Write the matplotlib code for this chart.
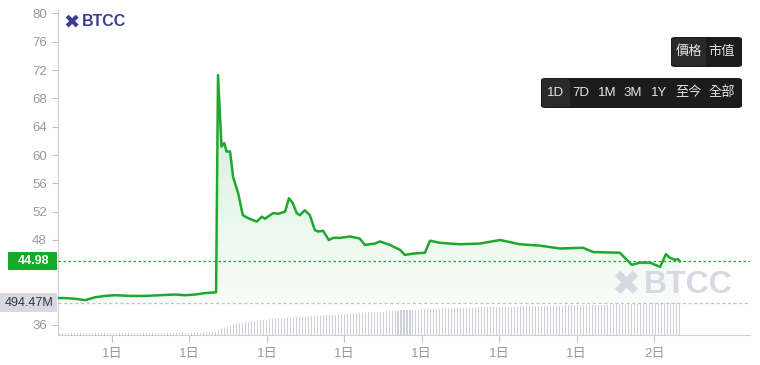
import numpy as np
import matplotlib
matplotlib.use("Agg")
import matplotlib.pyplot as plt
from matplotlib.patches import FancyBboxPatch, Rectangle, Polygon

plt.rcParams['font.family'] = ['Liberation Sans', 'Noto Sans CJK TC', 'DejaVu Sans']

# ---------------- data ----------------
# time in hours since start of chart window
price_t = [0, 0.18, 0.44, 0.70, 0.95, 1.21, 1.47, 1.86, 2.25, 2.63, 3.02, 3.28, 3.54, 3.79,
           4.03, 4.08, 4.13, 4.22, 4.29, 4.35, 4.44, 4.52, 4.65, 4.77, 4.90, 5.13, 5.26, 5.34,
           5.42, 5.55, 5.68, 5.86, 5.96, 6.06, 6.16, 6.24, 6.37, 6.50, 6.63, 6.71, 6.84, 6.99,
           7.10, 7.28, 7.54, 7.79, 7.92, 8.18, 8.31, 8.57, 8.83, 8.95, 9.21, 9.47, 9.60, 9.86,
           10.37, 10.89, 11.41, 11.92, 12.44, 12.95, 13.55, 13.81, 14.50, 14.68, 14.81, 15.02,
           15.28, 15.54, 15.69, 15.79, 15.92, 16.00, 16.05]
price_v = [39.8, 39.8, 39.7, 39.5, 39.9, 40.1, 40.2, 40.1, 40.1, 40.2, 40.3, 40.2, 40.3, 40.5,
           40.6, 40.6, 71.3, 61.2, 61.7, 60.5, 60.5, 56.9, 54.6, 51.5, 51.1, 50.6, 51.3, 51.0,
           51.3, 51.8, 51.7, 52.0, 53.9, 53.2, 51.8, 51.5, 52.2, 51.5, 49.4, 49.2, 49.3, 48.0,
           48.3, 48.3, 48.5, 48.2, 47.3, 47.5, 47.8, 47.3, 46.6, 45.9, 46.1, 46.2, 47.9, 47.6,
           47.4, 47.5, 48.0, 47.4, 47.2, 46.8, 46.9, 46.3, 46.2, 45.2, 44.5, 44.8, 44.8, 44.2,
           46.0, 45.5, 45.2, 45.3, 44.98]

# volume (millions), one bar per interval
volume_m = [38, 37, 38, 37, 38, 38, 37, 38, 38, 37,
            38, 38, 37, 38, 38, 38, 37, 38, 38, 38,
            38, 38, 37, 38, 38, 38, 38, 37, 38, 38,
            38, 38, 38, 37, 38, 38, 38, 38, 38, 38,
            38, 39, 38, 38, 38, 39, 38, 38, 39, 39,
            39, 39, 42, 70, 95, 115, 130, 145, 158, 170,
            180, 188, 196, 203, 210, 216, 222, 228, 234, 238,
            243, 248, 252, 256, 260, 264, 267, 270, 273, 276,
            279, 282, 285, 288, 291, 294, 297, 300, 303, 306,
            309, 312, 315, 318, 321, 324, 327, 330, 333, 336,
            339, 342, 345, 348, 351, 354, 357, 360, 363, 366,
            369, 372, 375, 377, 380, 382, 385, 387, 390, 392,
            394, 396, 398, 400, 402, 404, 406, 408, 410, 411,
            413, 414, 416, 417, 419, 420, 421, 423, 424, 425,
            426, 428, 429, 430, 431, 432, 433, 434, 435, 436,
            437, 438, 439, 440, 441, 442, 443, 444, 445, 446,
            447, 448, 449, 450, 451, 452, 453, 454, 455, 456,
            457, 458, 459, 460, 461, 462, 463, 464, 465, 466,
            467, 468, 469, 470, 471, 472, 473, 474, 475, 476,
            477, 478, 479, 480, 481, 482, 484, 486, 488, 489,
            490, 491, 492, 492, 493, 493, 494, 494.47]

last_price = 44.98
last_volume = 494.47
y_ticks = [36, 40, 44, 48, 52, 56, 60, 64, 68, 72, 76, 80]
y_hidden = [40, 44]   # covered by the price / volume label boxes
x_tick_pos = [1.39, 3.39, 5.39, 7.39, 9.39, 11.39, 13.39, 15.39]
x_tick_labels = ['1日', '1日', '1日', '1日', '1日', '1日', '1日', '2日']
range_buttons = ['1D', '7D', '1M', '3M', '1Y', '至今', '全部']
mode_buttons = ['價格', '市值']

# ---------------- figure ----------------
W, H = 760, 365
fig = plt.figure(figsize=(W / 100, H / 100), dpi=100)
fig.patch.set_facecolor('white')

def P(x, y):
    return (x / W, 1 - y / H)

ax_l, ax_r, ax_t, ax_b = 58, 750, 10, 335
ax = fig.add_axes([ax_l / W, 1 - ax_b / H, (ax_r - ax_l) / W, (ax_b - ax_t) / H])
ymin, ymax = 34.58, 80.49
xmin, xmax = 0, 17.86
ax.set_xlim(xmin, xmax)
ax.set_ylim(ymin, ymax)

green = '#1fa82e'
gray_txt = '#9a9a9a'

# volume on twin axis
axv = ax.twinx()
axv.set_ylim(0, last_volume * (ax_b - ax_t) / 32.0)
n = len(volume_m)
bar_t = np.linspace(price_t[0] + 0.03, price_t[-1], n)
axv.bar(bar_t, volume_m, width=0.026, color='#cdd0da', linewidth=0, zorder=1,
        antialiased=False)
axv.axis('off')
axv.set_zorder(ax.get_zorder() - 1)
ax.patch.set_visible(False)

# gradient fill under line
base = 39.1
poly_xy = np.column_stack([np.r_[price_t, price_t[-1], price_t[0]],
                           np.r_[price_v, base, base]])
poly = Polygon(poly_xy, closed=True, facecolor='none', edgecolor='none')
ax.add_patch(poly)
grad = np.linspace(0.22, 0.03, 256).reshape(-1, 1)
rgba = np.zeros((256, 1, 4))
rgba[..., 0] = 0.13
rgba[..., 1] = 0.70
rgba[..., 2] = 0.22
rgba[..., 3] = grad
im = ax.imshow(rgba, extent=[xmin, xmax, base, 72], aspect='auto', origin='upper', zorder=2)
im.set_clip_path(poly)

ax.plot(price_t, price_v, color=green, lw=1.8, zorder=4, solid_joinstyle='round')

# reference lines
ax.axhline(last_price, color=green, lw=0.9, ls=(0, (2, 2)), zorder=3)
ax.axhline(base + 0.05, color='#c3c3c3', lw=0.9, ls=(0, (2.5, 2)), zorder=3)

# axes styling
for s in ['top', 'right']:
    ax.spines[s].set_visible(False)
ax.spines['left'].set_color('#d0d0d0')
ax.spines['bottom'].set_color('#d0d0d0')
ax.set_yticks(y_ticks)
ax.set_yticklabels(['' if v in y_hidden else str(v) for v in y_ticks])
ax.tick_params(axis='y', colors='#c0c0c0', labelcolor=gray_txt, labelsize=9.5, length=4, pad=4)
ax.set_xticks(x_tick_pos)
ax.set_xticklabels(x_tick_labels)
ax.tick_params(axis='x', colors='#c0c0c0', labelcolor=gray_txt, labelsize=9.5, length=5, pad=4)

# price label box
fig.patches.append(Rectangle(P(8, 270), 49 / W, 18 / H, transform=fig.transFigure,
                             facecolor='#19a928', edgecolor='none', zorder=10))
fig.text(33 / W, 1 - 261.5 / H, f'{last_price:.2f}', color='white', fontsize=9,
         fontweight='bold', ha='center', va='center', zorder=11)
# volume label box
fig.patches.append(Rectangle(P(0, 312), 57 / W, 19 / H, transform=fig.transFigure,
                             facecolor='#d6d9e1', edgecolor='none', zorder=10))
fig.text(29 / W, 1 - 302.5 / H, f'{last_volume:.2f}M', color='#333333', fontsize=9,
         ha='center', va='center', zorder=11)

# logo
navy = '#3a3f8f'
fig.text(72 / W, 1 - 22 / H, '✖', family='DejaVu Sans', color=navy, fontsize=14,
         ha='center', va='center', fontweight='bold')
fig.text(82 / W, 1 - 22 / H, 'BTCC', color=navy, fontsize=11.5, fontweight='bold',
         ha='left', va='center')

# watermark
wm = '#d6d9e2'
fig.text(626 / W, 1 - 285 / H, '✖', family='DejaVu Sans', color=wm, fontsize=25,
         ha='center', va='center', fontweight='bold')
fig.text(644 / W, 1 - 285 / H, 'BTCC', color=wm, fontsize=23, fontweight='bold',
         ha='left', va='center')

# buttons
def box(x0, y0, x1, y1, color, z=10):
    fig.patches.append(FancyBboxPatch(P(x0, y1), (x1 - x0) / W, (y1 - y0) / H,
                                      boxstyle='round,pad=0,rounding_size=0.006',
                                      transform=fig.transFigure, facecolor=color,
                                      edgecolor='none', zorder=z))

box(671, 37, 742, 67, '#1c1c1c')
box(672, 38, 706, 66, '#2a2a2a', z=11)
for lbl, x in zip(mode_buttons, [689, 722]):
    fig.text(x / W, 1 - 52 / H, lbl, color='#e6e6e6', fontsize=9.5, ha='center',
             va='center', zorder=12)

box(541, 78, 742, 108, '#1c1c1c')
box(542, 79, 570, 107, '#2a2a2a', z=11)
for lbl, x in zip(range_buttons, [556, 581, 607, 633, 659, 689, 722]):
    fig.text(x / W, 1 - 93 / H, lbl, color='#e6e6e6', fontsize=9.5, ha='center',
             va='center', zorder=12)

fig.savefig('out.png', dpi=100, facecolor='white')
